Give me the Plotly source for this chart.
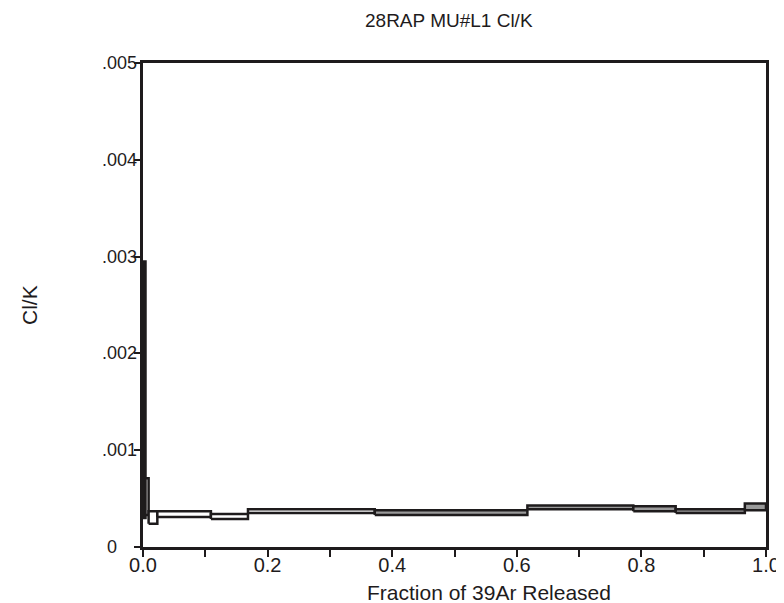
import plotly.graph_objects as go

# Cumulative fraction of 39Ar released at step boundaries
cum_fraction = [0.0, 0.004, 0.009, 0.023, 0.109, 0.1685, 0.372, 0.617, 0.787, 0.855, 0.966, 1.0]
# Cl/K lower and upper bounds for each step
clk_low = [0.00030, 0.00033, 0.00024, 0.00031, 0.00029, 0.00035, 0.00033, 0.00039, 0.00037, 0.00035, 0.00038]
clk_high = [0.00295, 0.00071, 0.00037, 0.00037, 0.00034, 0.00039, 0.00038, 0.00043, 0.00042, 0.00039, 0.00045]
# plateau steps are shaded
plateau = [False, False, False, False, False, False, True, True, True, True, True]

y_tickvals = [0, 0.001, 0.002, 0.003, 0.004, 0.005]
y_ticktext = ["0", ".001", ".002", ".003", ".004", ".005"]
x_tickvals = [i / 10 for i in range(11)]
x_ticktext = ["0.0", "", "0.2", "", "0.4", "", "0.6", "", "0.8", "", "1.0"]

INK = "#1e1b1c"
font = "Liberation Sans, Arial, sans-serif"

W, H = 784, 603
L, R, T, B = 135, 26, 55, 64
pw, ph = W - L - R, H - T - B

fig = go.Figure()
for i in range(len(clk_low)):
    x0, x1 = cum_fraction[i], cum_fraction[i + 1]
    y0, y1 = clk_low[i], clk_high[i]
    fig.add_trace(go.Scatter(
        x=[x0, x1, x1, x0, x0],
        y=[y0, y0, y1, y1, y0],
        mode="lines",
        fill="toself",
        fillcolor="#9a9a9a" if plateau[i] else "white",
        line=dict(color=INK, width=2.5),
        showlegend=False,
        hoverinfo="skip",
    ))

annotations = []
# chart title
annotations.append(dict(text="28RAP MU#L1 Cl/K", xref="paper", yref="paper",
                        x=(441 - L) / pw, y=1 + (T - 13) / ph, xanchor="center", yanchor="middle",
                        showarrow=False, font=dict(family=font, size=19, color=INK)))
# x axis title
annotations.append(dict(text="Fraction of 39Ar Released", xref="paper", yref="paper",
                        x=0.555, y=-(584 - (H - B)) / ph, xanchor="center", yanchor="middle",
                        showarrow=False, font=dict(family=font, size=21, color=INK)))
# y axis title
annotations.append(dict(text="Cl/K", xref="paper", yref="paper", textangle=-90,
                        x=(21 - L) / pw, y=0.50, xanchor="center", yanchor="middle",
                        showarrow=False, font=dict(family=font, size=21, color=INK)))
# y tick labels (centred, as in the reference)
for v, t in zip(y_tickvals, y_ticktext):
    cx = 104 if t == "0" else 111
    annotations.append(dict(text=t, xref="paper", yref="y", x=(cx - L) / pw, y=v,
                            xanchor="center", yanchor="middle", showarrow=False,
                            font=dict(family=font, size=18, color=INK)))

fig.update_layout(
    width=W, height=H,
    margin=dict(l=L, r=R, t=T, b=B),
    paper_bgcolor="white", plot_bgcolor="white",
    font=dict(family=font, color=INK),
    annotations=annotations,
)
fig.update_xaxes(
    range=[0, 1], tickvals=x_tickvals, ticktext=x_ticktext,
    ticks="outside", ticklen=7, tickwidth=2, tickcolor=INK,
    showline=True, linewidth=3, linecolor=INK, mirror=True,
    showgrid=False, zeroline=False, ticklabelstandoff=-9,
    tickfont=dict(family=font, size=20, color=INK),
)
fig.update_yaxes(
    range=[0, 0.005], tickvals=y_tickvals, showticklabels=False,
    ticks="outside", ticklen=6, tickwidth=2, tickcolor=INK,
    showline=True, linewidth=3, linecolor=INK, mirror=True,
    showgrid=False, zeroline=False,
)

fig.write_html("out.html")
